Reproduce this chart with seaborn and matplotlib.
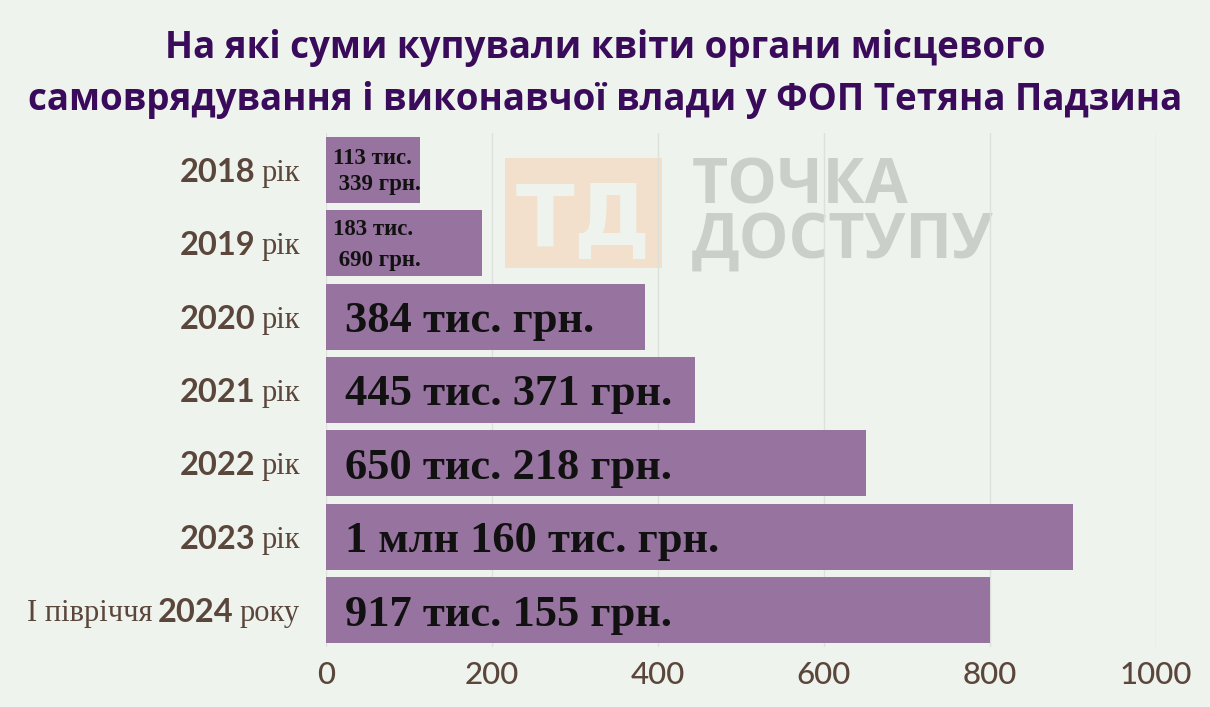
import matplotlib
matplotlib.use("Agg")
import matplotlib.pyplot as plt
import matplotlib.patches as mpatches
import seaborn as sns
import pandas as pd

# ---- data ----
periods = ["2018", "2019", "2020", "2021", "2022", "2023", "2024"]
prefixes = ["", "", "", "", "", "", "І півріччя"]
suffixes = ["рік", "рік", "рік", "рік", "рік", "рік", "року"]
bar_values = [113, 188, 384, 445, 650, 900, 800]
value_labels = ["113 тис.\n 339 грн.", "183 тис.\n 690 грн.", "384 тис. грн.",
                "445 тис. 371 грн.", "650 тис. 218 грн.", "1 млн 160 тис. грн.",
                "917 тис. 155 грн."]
x_ticks = [0, 200, 400, 600, 800, 1000]
title_lines = ["На які суми купували квіти органи місцевого",
               "самоврядування і виконавчої влади у ФОП Тетяна Падзина"]

BG = "#eef4ed"
BAR = "#97739f"
BROWN = "#5b463c"
TITLE = "#3a0b5a"

sns.set_theme(style="white")
plt.rcParams["font.family"] = ["DejaVu Sans"]

fig = plt.figure(figsize=(12.1, 7.07), dpi=100, facecolor=BG)
ax = fig.add_axes([0.2694, 0.0849, 0.6860, 0.7270])
ax.set_facecolor(BG)

df = pd.DataFrame({"period": [p + s for p, s in zip(prefixes, periods)], "value": bar_values})
sns.barplot(data=df, x="value", y="period", orient="h", color=BAR, saturation=1,
            width=0.9, ax=ax, zorder=2, linewidth=0, edgecolor="none")

ax.set_xlim(0, 1000)
ax.set_xticks(x_ticks)
ax.set_xticklabels([str(t) for t in x_ticks], fontfamily="Lato", fontweight="medium",
                   fontsize=22.5, color=BROWN)
ax.set_yticks(range(len(periods)))
ax.set_yticklabels([])
ax.tick_params(axis="both", length=0)
ax.tick_params(axis="x", pad=10)
ax.set_xlabel("")
ax.set_ylabel("")
ax.grid(axis="x", color="#dde1db", lw=1)
ax.set_axisbelow(True)
for s in ax.spines.values():
    s.set_visible(False)

# ---- composite category labels ----
for i in range(len(periods)):
    t1 = ax.annotate(suffixes[i], xy=(0, i), xycoords="data", xytext=(-19, 0),
                     textcoords="offset points", ha="right", va="center_baseline",
                     fontfamily="Liberation Serif", fontsize=22, color=BROWN,
                     annotation_clip=False)
    t2 = ax.annotate(periods[i], xy=(0, i), xycoords=(t1, "data"), xytext=(-4, 0),
                     textcoords="offset points", ha="right", va="center_baseline",
                     fontfamily="Lato", fontweight="bold", fontsize=23.5, color=BROWN,
                     annotation_clip=False)
    if prefixes[i]:
        ax.annotate(prefixes[i], xy=(0, i), xycoords=(t2, "data"), xytext=(-4, 0),
                    textcoords="offset points", ha="right", va="center_baseline",
                    fontfamily="Liberation Serif", fontsize=22, color=BROWN,
                    annotation_clip=False)

# ---- value labels ----
for i, lab in enumerate(value_labels):
    if "\n" in lab:
        ax.annotate(lab, xy=(0, i), xytext=(5, -1.5), textcoords="offset points",
                    ha="left", va="center", fontfamily="Liberation Serif",
                    fontweight="bold", fontsize=16.5, color="#111111",
                    linespacing=1.3 if i == 0 else 1.6, zorder=3)
    else:
        ax.annotate(lab, xy=(0, i), xytext=(14, 0), textcoords="offset points",
                    ha="left", va="center_baseline", fontfamily="Liberation Serif",
                    fontweight="bold", fontsize=32, color="#111111", zorder=3)

# ---- watermark ----
rect = mpatches.Rectangle((505 / 1210, 1 - 268 / 707), 157 / 1210, 110 / 707,
                          transform=fig.transFigure, facecolor="#f2dfcc",
                          edgecolor="none", zorder=0.2)
ax.add_patch(rect)
ax.text((505 + 78) / 1210, 1 - 246 / 707, "ТД", transform=fig.transFigure,
        ha="center", va="baseline", fontfamily="DejaVu Sans", fontweight="bold",
        fontsize=62, color=BG, zorder=0.3)
ax.text(692 / 1210, 1 - 203 / 707, "ТОЧКА", transform=fig.transFigure,
        ha="left", va="baseline", fontfamily="Open Sans", fontweight="bold",
        fontsize=45, color="#cbcfc9", zorder=0.3)
ax.text(692 / 1210, 1 - 258 / 707, "ДОСТУПУ", transform=fig.transFigure,
        ha="left", va="baseline", fontfamily="Open Sans", fontweight="bold",
        fontsize=45, color="#cbcfc9", zorder=0.3)

# ---- title ----
fig.text(0.5, 1 - 58 / 707, title_lines[0], ha="center", va="baseline",
         fontfamily="Open Sans", fontweight="bold", fontsize=26.5, color=TITLE)
fig.text(0.5, 1 - 110 / 707, title_lines[1], ha="center", va="baseline",
         fontfamily="Open Sans", fontweight="bold", fontsize=26.5, color=TITLE)

fig.savefig("out.png", dpi=100, facecolor=BG)
